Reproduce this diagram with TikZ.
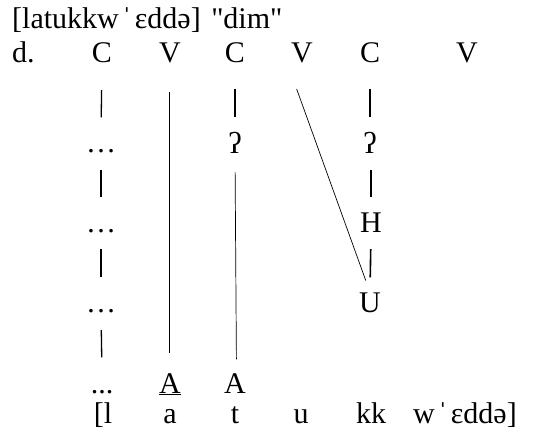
\documentclass[tikz,border=0pt]{standalone}
\usepackage{fontspec}
\setmainfont{Liberation Serif}[Ligatures=TeXOff]
\newcommand{\strs}{\hspace{3pt}ˈ\hspace{3pt}}
\begin{document}
\begin{tikzpicture}[x=1pt,y=-1pt,
  lab/.style={inner sep=0pt, anchor=base, text height=19.5pt, text depth=0pt, font=\fontsize{30}{35}\selectfont},
  labw/.style={lab, anchor=base west},
  bar/.style={line width=1.3pt},
  tbar/.style={line width=1.6pt},
  link/.style={line width=0.7pt}]
\useasboundingbox (0,0) rectangle (545,445);
% title and row labels
\node[labw] (title) at (12,28) {[latukkw\strs ɛddə]\hspace{3pt} "dim"};
\node[labw] (d) at (12,62) {d.};
% skeleton
\node[lab] (C1) at (102,62) {C};
\node[lab] (V1) at (170,62) {V};
\node[lab] (C2) at (235,62) {C};
\node[lab] (V2) at (302,62) {V};
\node[lab] (C3) at (370,62) {C};
\node[lab] (V3) at (467,62) {V};
% column 1
\node[lab] (D1a) at (101,152) {…};
\node[lab] (D1b) at (101,232) {…};
\node[lab] (D1c) at (101,312) {…};
\node[lab] (D1d) at (102,393) {...};
% column 3
\node[lab] (Q2) at (235,153) {ʔ};
\node[lab] (A2) at (235,393) {A};
% column 5
\node[lab] (Q3) at (370,153) {ʔ};
\node[lab] (H3) at (371,232) {H};
\node[lab] (U3) at (370,312) {U};
% column 2
\node[lab] (A1) at (170,393) {\underline{A}};
% segments
\node[lab] (s1) at (103,423) {[l};
\node[lab] (s2) at (170,423) {a};
\node[lab] (s3) at (235,423) {t};
\node[lab] (s4) at (301,423) {u};
\node[lab] (s5) at (371,423) {kk};
\node[labw] (s6) at (413,423) {w\strs ɛddə]};
% association lines
\draw[bar, shorten <=28pt, shorten >=15pt] (C1.south) -- (D1a.north);
\draw[bar, shorten <=18pt, shorten >=15pt] (D1a.south) -- (D1b.north);
\draw[bar, shorten <=17pt, shorten >=15pt] (D1b.south) -- (D1c.north);
\draw[bar, shorten <=18pt, shorten >=16pt] (D1c.south) -- (D1d.north);
\draw[bar, shorten <=27pt, shorten >=16pt] (C2.south) -- (Q2.north);
\draw[link, shorten <=19pt, shorten >=14pt] (Q2.south) -- ([xshift=1.5pt]A2.north);
\draw[link, shorten <=30pt, shorten >=20pt] ([xshift=-1pt]V1.south) -- ([xshift=-1pt]A1.north);
\draw[tbar, shorten <=27pt, shorten >=16pt] (C3.south) -- (Q3.north);
\draw[tbar, shorten <=17pt, shorten >=15pt] ([xshift=1pt]Q3.south) -- (H3.north);
\draw[tbar, shorten <=17pt, shorten >=15pt] (H3.south) -- (U3.north);
\draw[link, shorten <=28.5pt, shorten >=12.5pt] ([xshift=-15pt]V2.south) -- (U3.north);
\end{tikzpicture}
\end{document}
